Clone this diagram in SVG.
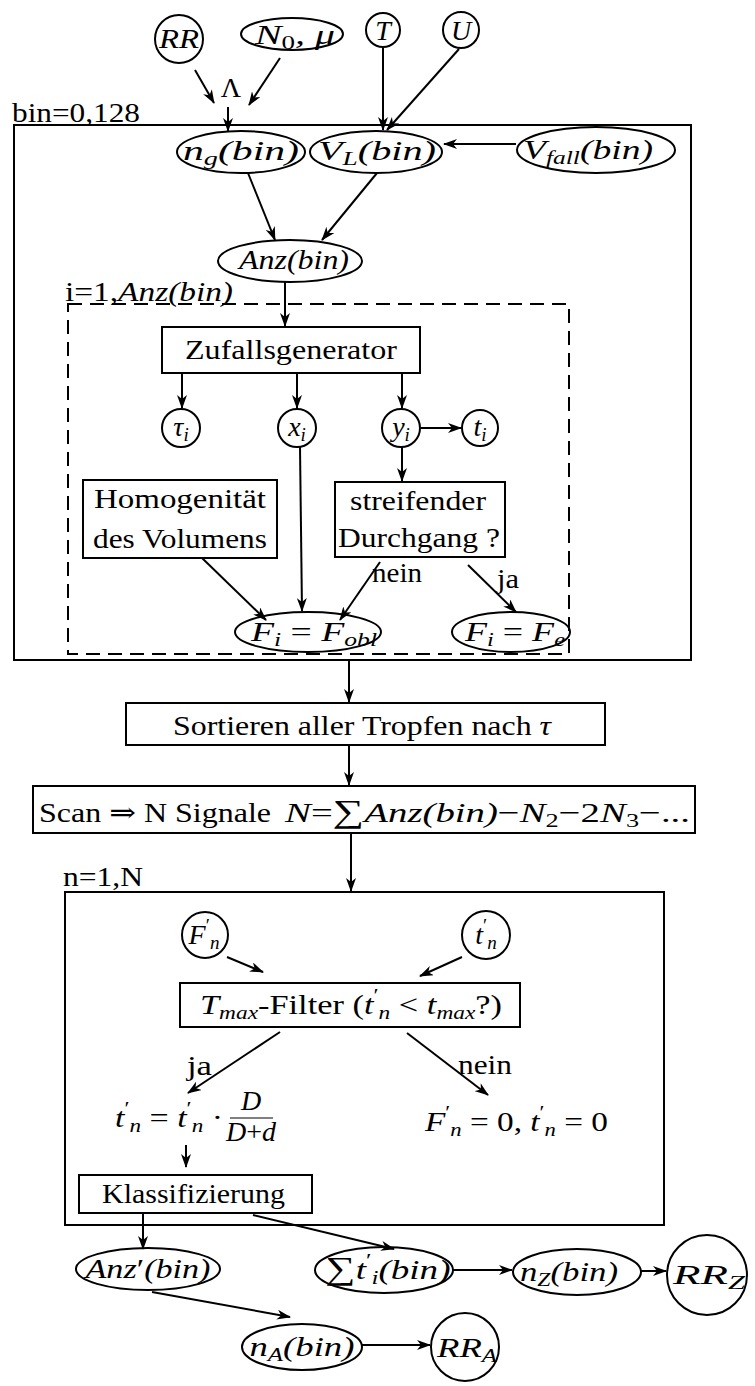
<svg xmlns="http://www.w3.org/2000/svg" width="755" height="1386" viewBox="0 0 755 1386">
<defs>
<style>
.ln{fill:none;stroke:#000;stroke-width:2}
.ar{fill:none;stroke:#000;stroke-width:2;marker-end:url(#ah)}
.da{fill:none;stroke:#000;stroke-width:2;stroke-dasharray:14 8}
text{font-family:"Liberation Serif","DejaVu Serif",serif;font-size:28px;fill:#000}
.i{font-style:italic}
.c{text-anchor:middle}
.s{font-size:19px}
.u{font-style:normal}
</style>
<marker id="ah" viewBox="0 0 14 10" refX="13" refY="5" markerWidth="14" markerHeight="10" markerUnits="userSpaceOnUse" orient="auto"><path d="M0,0 L14,5 L0,10 L4,5 Z" fill="#000"/></marker>
</defs>
<rect width="755" height="1386" fill="#fff"/>

<g id="frames">
<rect class="ln" x="14" y="125" width="677" height="535"/>
<text x="12" y="122" textLength="128" lengthAdjust="spacingAndGlyphs">bin=0,128</text>
<rect class="da" x="68" y="304" width="501" height="350"/>
<text x="65" y="301" textLength="168" lengthAdjust="spacingAndGlyphs">i=1,<tspan class="i">Anz(bin)</tspan></text>
<rect class="ln" x="65" y="892" width="599" height="333"/>
<text x="63" y="886" textLength="80" lengthAdjust="spacingAndGlyphs">n=1,N</text>
</g>

<g id="connectors">
<line class="ar" x1="195" y1="70" x2="214" y2="103"/>
<line class="ar" x1="280" y1="58" x2="249" y2="105"/>
<line class="ar" x1="228" y1="107" x2="228" y2="131"/>
<line class="ar" x1="383" y1="48" x2="383" y2="130"/>
<line class="ar" x1="459" y1="49" x2="387" y2="130"/>
<line class="ar" x1="516" y1="144" x2="444" y2="144"/>
<line class="ar" x1="248" y1="173" x2="275" y2="240"/>
<line class="ar" x1="377" y1="173" x2="322" y2="240"/>
<line class="ar" x1="285" y1="282" x2="285" y2="326"/>
<line class="ar" x1="182" y1="373" x2="182" y2="408"/>
<line class="ar" x1="297" y1="373" x2="297" y2="408"/>
<line class="ar" x1="402" y1="373" x2="402" y2="408"/>
<line class="ar" x1="421" y1="428" x2="461" y2="428"/>
<line class="ar" x1="402" y1="447" x2="402" y2="481"/>
<line class="ar" x1="300" y1="447" x2="302" y2="611"/>
<line class="ar" x1="202" y1="558" x2="266" y2="620"/>
<line class="ar" x1="380" y1="562" x2="340" y2="620"/>
<line class="ar" x1="468" y1="565" x2="516" y2="612"/>
<line class="ar" x1="349" y1="660" x2="349" y2="702"/>
<line class="ar" x1="349" y1="745" x2="349" y2="785"/>
<line class="ar" x1="351" y1="833" x2="351" y2="891"/>
<line class="ar" x1="227" y1="957" x2="263" y2="972"/>
<line class="ar" x1="462" y1="957" x2="420" y2="976"/>
<line class="ar" x1="280" y1="1032" x2="188" y2="1093"/>
<line class="ar" x1="407" y1="1033" x2="488" y2="1095"/>
<line class="ar" x1="186" y1="1145" x2="186" y2="1167"/>
<line class="ar" x1="143" y1="1213" x2="143" y2="1249"/>
<line class="ar" x1="253" y1="1215" x2="394" y2="1249"/>
<line class="ar" x1="453" y1="1270" x2="512" y2="1270"/>
<line class="ar" x1="641" y1="1271" x2="666" y2="1271"/>
<line class="ar" x1="152" y1="1292" x2="290" y2="1317"/>
<line class="ar" x1="362" y1="1345" x2="430" y2="1345"/>
<text x="372" y="582" textLength="50" lengthAdjust="spacingAndGlyphs">nein</text>
<text x="497" y="588" textLength="22" lengthAdjust="spacingAndGlyphs">ja</text>
<text x="187" y="1075" textLength="25" lengthAdjust="spacingAndGlyphs">ja</text>
<text x="458" y="1074" textLength="54" lengthAdjust="spacingAndGlyphs">nein</text>
</g>

<g id="RR"><circle class="ln" cx="179" cy="39" r="24"/><text x="179" y="48" class="i c" textLength="40" lengthAdjust="spacingAndGlyphs">RR</text></g>
<g id="N0mu"><ellipse class="ln" cx="292" cy="34" rx="51" ry="16"/><text x="295" y="44" class="i c" textLength="80" lengthAdjust="spacingAndGlyphs">N<tspan class="s u" dy="5">0</tspan><tspan dy="-5">,  μ</tspan></text></g>
<g id="T"><circle class="ln" cx="383" cy="30" r="17"/><text x="383" y="40" class="i c">T</text></g>
<g id="U"><circle class="ln" cx="461" cy="30" r="18"/><text x="461" y="40" class="i c">U</text></g>
<g id="Lambda"><text x="231" y="97" class="c">Λ</text></g>

<g id="ng"><ellipse class="ln" cx="241" cy="152" rx="64" ry="21"/><text x="241" y="160" class="i c" textLength="116" lengthAdjust="spacingAndGlyphs">n<tspan class="s" dy="5">g</tspan><tspan dy="-5">(bin)</tspan></text></g>
<g id="VL"><ellipse class="ln" cx="376" cy="152" rx="66" ry="21"/><text x="377" y="160" class="i c" textLength="118" lengthAdjust="spacingAndGlyphs">V<tspan class="s" dy="5">L</tspan><tspan dy="-5">(bin)</tspan></text></g>
<g id="Vfall"><ellipse class="ln" cx="596" cy="150" rx="79" ry="23"/><text x="588" y="159" class="i c" textLength="130" lengthAdjust="spacingAndGlyphs">V<tspan class="s" dy="5">fall</tspan><tspan dy="-5">(bin)</tspan></text></g>
<g id="Anz"><ellipse class="ln" cx="290" cy="261" rx="72" ry="21"/><text x="294" y="269" class="i c" textLength="110" lengthAdjust="spacingAndGlyphs">Anz(bin)</text></g>

<g id="Zufall"><rect class="ln" x="162" y="327" width="258" height="46"/><text x="291" y="359" class="c" textLength="212" lengthAdjust="spacingAndGlyphs">Zufallsgenerator</text></g>
<g id="tau"><circle class="ln" cx="181" cy="428" r="19"/><text x="181" y="436" class="i c">τ<tspan class="s" dy="5">i</tspan></text></g>
<g id="xi"><circle class="ln" cx="297" cy="428" r="19"/><text x="297" y="436" class="i c">x<tspan class="s" dy="5">i</tspan></text></g>
<g id="yi"><circle class="ln" cx="401" cy="428" r="19"/><text x="401" y="436" class="i c">y<tspan class="s" dy="5">i</tspan></text></g>
<g id="ti"><circle class="ln" cx="480" cy="428" r="18"/><text x="480" y="436" class="i c">t<tspan class="s" dy="5">i</tspan></text></g>

<g id="Homog"><rect class="ln" x="83" y="480" width="194" height="78"/>
<text x="180" y="508" class="c" textLength="172" lengthAdjust="spacingAndGlyphs">Homogenität</text>
<text x="180" y="548" class="c" textLength="174" lengthAdjust="spacingAndGlyphs">des Volumens</text></g>
<g id="Streif"><rect class="ln" x="335" y="482" width="170" height="75"/>
<text x="418" y="510" class="c" textLength="136" lengthAdjust="spacingAndGlyphs">streifender</text>
<text x="419" y="547" class="c" textLength="162" lengthAdjust="spacingAndGlyphs">Durchgang ?</text></g>

<g id="Fobl"><ellipse class="ln" cx="308" cy="632" rx="73" ry="20"/><text x="314" y="641" class="i c" textLength="126" lengthAdjust="spacingAndGlyphs">F<tspan class="s" dy="5">i</tspan><tspan dy="-5" class="u"> = </tspan>F<tspan class="s" dy="5">obl</tspan></text></g>
<g id="Fe"><ellipse class="ln" cx="511" cy="632" rx="59" ry="20"/><text x="515" y="641" class="i c" textLength="100" lengthAdjust="spacingAndGlyphs">F<tspan class="s" dy="5">i</tspan><tspan dy="-5" class="u"> = </tspan>F<tspan class="s" dy="5">e</tspan></text></g>

<g id="Sort"><rect class="ln" x="126" y="703" width="479" height="42"/><text x="173" y="735" textLength="378" lengthAdjust="spacingAndGlyphs">Sortieren aller Tropfen nach <tspan class="i">τ</tspan></text></g>
<g id="Scan"><rect class="ln" x="33" y="786" width="662" height="47"/>
<text x="39" y="822" textLength="232" lengthAdjust="spacingAndGlyphs">Scan ⇒ N Signale</text>
<text x="285" y="822" class="i" textLength="405" lengthAdjust="spacingAndGlyphs">N<tspan class="u">=</tspan><tspan class="u" font-size="32">∑</tspan>Anz(bin)<tspan class="u">−</tspan>N<tspan class="s u" dy="5">2</tspan><tspan class="u" dy="-5">−2</tspan>N<tspan class="s u" dy="5">3</tspan><tspan class="u" dy="-5">−...</tspan></text></g>

<g id="Fn"><circle class="ln" cx="205" cy="935" r="23"/><text x="204" y="944" class="i c">F<tspan class="s u" dy="-12">′</tspan><tspan class="s" dy="17">n</tspan></text></g>
<g id="tn"><circle class="ln" cx="486" cy="935" r="24"/><text x="486" y="944" class="i c">t<tspan class="s u" dy="-12">′</tspan><tspan class="s" dy="17">n</tspan></text></g>

<g id="Tmax"><rect class="ln" x="180" y="983" width="340" height="44"/>
<text x="200" y="1014" textLength="302" lengthAdjust="spacingAndGlyphs"><tspan class="i">T</tspan><tspan class="i s" dy="5">max</tspan><tspan dy="-5">-Filter (</tspan><tspan class="i">t</tspan><tspan class="s" dy="-12">′</tspan><tspan class="i s" dy="17">n</tspan><tspan dy="-5"> &lt; </tspan><tspan class="i">t</tspan><tspan class="i s" dy="5">max</tspan><tspan dy="-5">?)</tspan></text></g>

<g id="tscale"><text x="115" y="1127" class="i" textLength="108" lengthAdjust="spacingAndGlyphs">t<tspan class="s u" dy="-12">′</tspan><tspan class="s" dy="17">n</tspan><tspan class="u" dy="-5"> = </tspan>t<tspan class="s u" dy="-12">′</tspan><tspan class="s" dy="17">n</tspan><tspan class="u" dy="-5"> ·</tspan></text>
<text x="251" y="1110" class="i c" font-size="18">D</text>
<line x1="230" y1="1118" x2="273" y2="1118" stroke="#000" stroke-width="1"/>
<text x="251" y="1141" class="i c" font-size="18">D<tspan class="u">+</tspan>d</text></g>

<g id="Fzero"><text x="425" y="1131" class="i" textLength="183" lengthAdjust="spacingAndGlyphs">F<tspan class="s u" dy="-12">′</tspan><tspan class="s" dy="17">n</tspan><tspan class="u" dy="-5"> = 0,  </tspan>t<tspan class="s u" dy="-12">′</tspan><tspan class="s" dy="17">n</tspan><tspan class="u" dy="-5"> = 0</tspan></text></g>

<g id="Klass"><rect class="ln" x="79" y="1175" width="233" height="38"/><text x="102" y="1203" textLength="183" lengthAdjust="spacingAndGlyphs">Klassifizierung</text></g>
<g id="Anzp"><ellipse class="ln" cx="148" cy="1269" rx="72" ry="21"/><text x="148" y="1278" class="i c" textLength="125" lengthAdjust="spacingAndGlyphs">Anz<tspan class="u">′</tspan>(bin)</text></g>
<g id="Sumt"><ellipse class="ln" cx="384" cy="1270" rx="69" ry="23"/><text x="388" y="1279" class="i c" textLength="125" lengthAdjust="spacingAndGlyphs"><tspan class="u" font-size="32">∑</tspan>t<tspan class="s u" dy="-12">′</tspan><tspan class="s" dy="17">i</tspan><tspan dy="-5">(bin)</tspan></text></g>
<g id="nZ"><ellipse class="ln" cx="577" cy="1272" rx="64" ry="23"/><text x="569" y="1281" class="i c" textLength="98" lengthAdjust="spacingAndGlyphs">n<tspan class="s" dy="5">Z</tspan><tspan dy="-5">(bin)</tspan></text></g>
<g id="RRZ"><circle class="ln" cx="707" cy="1275" r="40"/><text x="709" y="1284" class="i c" textLength="72" lengthAdjust="spacingAndGlyphs">RR<tspan class="s" dy="5">Z</tspan></text></g>
<g id="nA"><ellipse class="ln" cx="302" cy="1347" rx="60" ry="23"/><text x="302" y="1356" class="i c" textLength="105" lengthAdjust="spacingAndGlyphs">n<tspan class="s" dy="5">A</tspan><tspan dy="-5">(bin)</tspan></text></g>
<g id="RRA"><circle class="ln" cx="465" cy="1347" r="34"/><text x="467" y="1357" class="i c" textLength="60" lengthAdjust="spacingAndGlyphs">RR<tspan class="s" dy="5">A</tspan></text></g>
</svg>
